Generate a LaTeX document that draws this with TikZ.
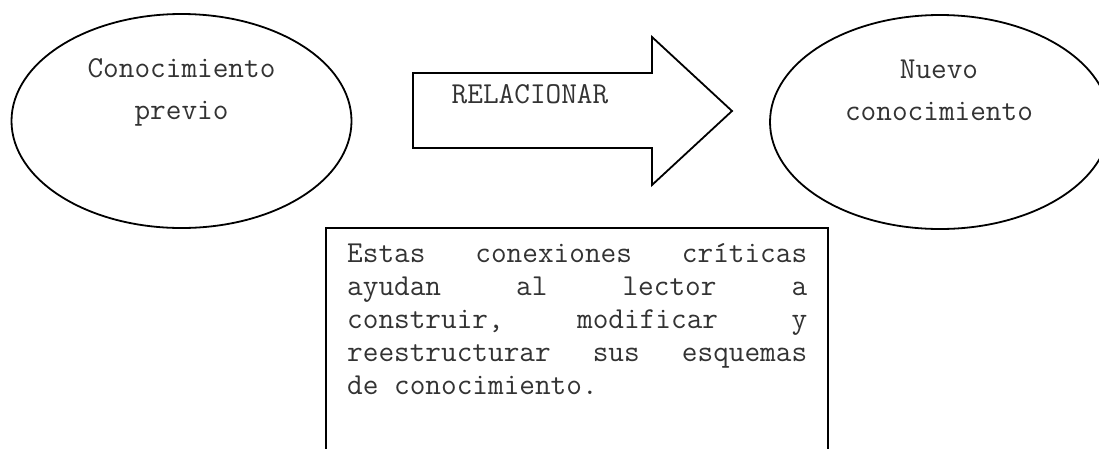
\documentclass[tikz,border=0pt]{standalone}
\usepackage{fontspec}
\usetikzlibrary{shapes.geometric}
\tikzset{
  outline/.style={draw=black, line width=1.8pt},
  bubble/.style={outline, ellipse, inner sep=0pt, minimum width=340pt, minimum height=214pt},
  txt/.style={inner sep=0pt, font=\ttfamily\fontsize{30.4pt}{33pt}\selectfont, text=black!80},
}
\begin{document}
\begin{tikzpicture}[x=1pt, y=-1pt, line join=miter]
  \useasboundingbox (0,0) rectangle (1099,448);
  \clip (0,0) rectangle (1099,448);
  \fill[white] (0,0) rectangle (1099,448);

  % left ellipse
  \node[bubble] (prev) at (181.5,121) {};
  \node[txt, anchor=base] (prev1) at (181.5,77) {Conocimiento};
  \node[txt, anchor=base] (prev2) at (181.5,119) {previo};

  % block arrow
  \coordinate (a1) at (413,73);
  \coordinate (a2) at (652,73);
  \coordinate (a3) at (652,37);
  \coordinate (a4) at (732,111);
  \coordinate (a5) at (652,185);
  \coordinate (a6) at (652,148);
  \coordinate (a7) at (413,148);
  \draw[outline] (a1) -- (a2) -- (a3) -- (a4) -- (a5) -- (a6) -- (a7) -- cycle;
  \node[txt, anchor=base] (rel) at (530,103) {RELACIONAR};

  % right ellipse
  \node[bubble] (nuevo) at (940,122) {};
  \node[txt, anchor=base] (nuevo1) at (939,78) {Nuevo};
  \node[txt, anchor=base] (nuevo2) at (939,120) {conocimiento};

  % text box
  \node[outline, anchor=north west, inner sep=0pt, minimum width=502pt, minimum height=260pt] (box) at (325,227) {};
  \node[txt, anchor=base west] (l1) at (347,262) {\hbox to 460pt{Estas\hfill conexiones\hfill críticas}};
  \node[txt, anchor=base west] (l2) at (347,295) {\hbox to 460pt{ayudan\hfill al\hfill lector\hfill a}};
  \node[txt, anchor=base west] (l3) at (347,328) {\hbox to 460pt{construir,\hfill modificar\hfill y}};
  \node[txt, anchor=base west] (l4) at (347,361) {\hbox to 460pt{reestructurar\hfill sus\hfill esquemas}};
  \node[txt, anchor=base west] (l5) at (347,394) {de conocimiento.};
\end{tikzpicture}
\end{document}
